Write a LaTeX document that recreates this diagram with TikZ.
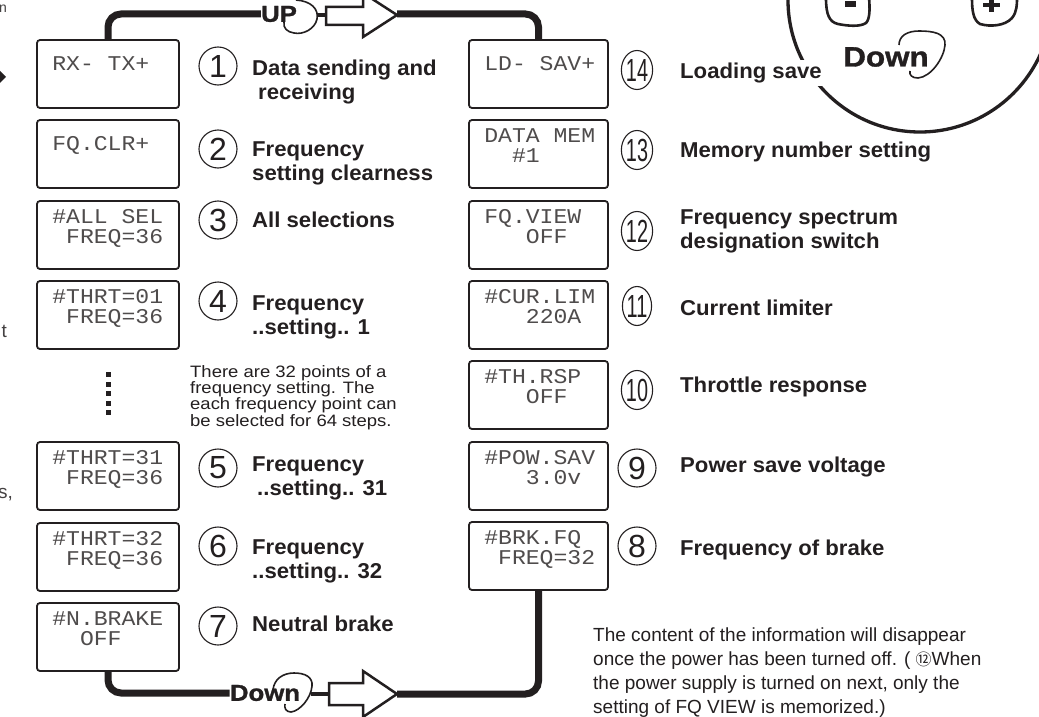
\documentclass[tikz,border=0pt]{standalone}
\usepackage{fontspec}
\setmainfont{Liberation Sans}
\newfontfamily\lcdfont[FakeStretch=1.1]{Liberation Mono}
\newfontfamily\lblfont[FakeStretch=1.03]{Liberation Sans}
\newfontfamily\narrowdigits[FakeStretch=0.62]{Liberation Sans}
\newfontfamily\notefont[FakeStretch=1.12]{Liberation Sans}
\newfontfamily\heavyfont[FakeStretch=1.12,FakeBold=1.2]{Liberation Sans}
\newfontfamily\cjkfont{Noto Sans CJK JP}
\usetikzlibrary{shapes.geometric,calc}
\definecolor{ink}{RGB}{35,31,32}
\newcommand\LS{\hphantom{0}}
\newcommand\LcdBox[6]{%
  \node[lcd, minimum width=#4] (#1) at (#2,#3+34) {};
  \node[lcdtxt] (#1a) at ($(#1.north west)+(16,23.5)$) {#5};
  \node[lcdtxt] (#1b) at ($(#1.north west)+(16,43.5)$) {#6};}
\newcommand\LcdOne[5]{%
  \node[lcd, minimum width=#4] (#1) at (#2,#3+34) {};
  \node[lcdtxt] (#1a) at ($(#1.north west)+(16,31)$) {#5};}
\begin{document}
\begin{tikzpicture}[x=1pt,y=-1pt,
  every node/.style={text=ink},
  lcd/.style={draw=ink, line width=1.8pt, rounded corners=3pt, minimum height=68pt, inner sep=0pt},
  lcdtxt/.style={font=\lcdfont\fontsize{21}{21}\selectfont, text=ink!80, inner sep=0pt, anchor=base west},
  numc/.style={circle, draw=ink, line width=1.1pt, minimum size=38pt, inner sep=0pt, font=\fontsize{32}{32}\selectfont},
  nume/.style={ellipse, draw=ink, line width=1.1pt, minimum width=29pt, minimum height=39pt, inner sep=0pt, font=\narrowdigits\fontsize{32}{32}\selectfont},
  lbl/.style={font=\lblfont\bfseries\fontsize{21.5}{24.5}\selectfont, align=left, inner sep=0pt, anchor=north west},
  flow/.style={draw=ink, line width=7pt, rounded corners=13pt},
  hollow/.style={draw=ink, line width=2.5pt, fill=white, line join=miter},
  curl/.style={draw=ink, line width=1.6pt},
  heavy/.style={inner sep=0pt, font=\heavyfont\bfseries\fontsize{23}{23}\selectfont},
  frag/.style={anchor=base east, inner sep=0pt, text=ink!85}
]
\clip (0,0) rectangle (1039,717);
\fill[white] (0,0) rectangle (1039,717);

% big dial circle (top right)
\draw[ink, line width=3.3pt] (920,0) circle[radius=132pt];
\draw[ink, line width=2.6pt] (826,-2) .. controls (826,14) and (829,22) .. (838,24)
  .. controls (848,26) and (860,27) .. (866,23) .. controls (870,19) and (870,8) .. (869,-2);
\fill[ink] (845,1) rectangle (856,7);
\draw[ink, line width=2.6pt] (972,-2) .. controls (972,10) and (973,20) .. (980,24)
  .. controls (990,27) and (1005,26) .. (1012,18) .. controls (1017,12) and (1017,4) .. (1017,-2);
\fill[ink] (983,3) rectangle (1000,7.5);
\fill[ink] (989,-1) rectangle (993.5,12);
\node[heavy, font=\heavyfont\bfseries\fontsize{28}{28}\selectfont] (dialdown) at (886,57) {Down};
\draw[curl] (899,45) .. controls (899,36) and (907,31) .. (919,31) .. controls (933,31) and (946,33) .. (945,45)
  .. controls (944,58) and (931,77) .. (918,78) .. controls (912,78) and (909,75) .. (910,71);

% left edge fragments
\node[frag, font=\fontsize{14}{14}\selectfont] (fr1) at (7,13) {n};
\fill[ink] (0,71) -- (6,77) -- (0,83) -- cycle;
\node[frag, font=\fontsize{19}{19}\selectfont] (fr2) at (7,337) {t};
\node[frag, font=\fontsize{19}{19}\selectfont] (fr3) at (13,498) {s,};

% LCD boxes, left column
\LcdOne{b1}{108}{40}{142pt}{RX-\LS TX+}
\LcdOne{b2}{108}{120}{142pt}{FQ.CLR+}
\LcdBox{b3}{108}{201}{142pt}{\#ALL\LS SEL}{\LS FREQ=36}
\LcdBox{b4}{108}{281}{142pt}{\#THRT=01}{\LS FREQ=36}
\LcdBox{b5}{108}{442}{142pt}{\#THRT=31}{\LS FREQ=36}
\LcdBox{b6}{108}{523}{142pt}{\#THRT=32}{\LS FREQ=36}
\LcdBox{b7}{108}{603}{142pt}{\#N.BRAKE}{\LS\LS OFF}
% LCD boxes, right column
\LcdOne{b14}{538.5}{40}{139pt}{LD-\LS SAV+}
\LcdBox{b13}{538.5}{120}{139pt}{DATA\LS MEM}{\LS\LS\#1}
\LcdBox{b12}{538.5}{201}{139pt}{FQ.VIEW}{\LS\LS\LS OFF}
\LcdBox{b11}{538.5}{281}{139pt}{\#CUR.LIM}{\LS\LS\LS 220A}
\LcdBox{b10}{538.5}{361}{139pt}{\#TH.RSP}{\LS\LS\LS OFF}
\LcdBox{b9}{538.5}{442}{139pt}{\#POW.SAV}{\LS\LS\LS 3.0v}
\LcdBox{b8}{538.5}{522}{139pt}{\#BRK.FQ}{\LS FREQ=32}

% dots
\foreach \yy in {372,381.5,391,400.5,410} \fill[ink] (105.5,\yy) rectangle +(5,5);

% numbers and labels, left
\node[numc] (n1) at (218,66) {1};
\node[lbl] (l1) at (252,59.5) {Data sending and\\\hspace*{6pt}receiving};
\node[numc] (n2) at (218,149) {2};
\node[lbl] (l2) at (252,141.5) {Frequency\\setting clearness};
\node[numc] (n3) at (218,220) {3};
\node[lbl] (l3) at (252,211.5) {All selections};
\node[numc] (n4) at (218,301) {4};
\node[lbl] (l4) at (252,295.5) {Frequency\\..setting.. 1};
\node[numc] (n5) at (218,468) {5};
\node[lbl] (l5) at (252,456.5) {Frequency\\\hspace*{5pt}..setting.. 31};
\node[numc] (n6) at (218,546) {6};
\node[lbl] (l6) at (252,539.5) {Frequency\\..setting.. 32};
\node[numc] (n7) at (218,626) {7};
\node[lbl] (l7) at (252,615.5) {Neutral brake};

% numbers and labels, right
\node[nume] (n14) at (637,70) {14};
\node[lbl, fill=white, inner sep=3pt] (l14) at (677,59.5) {Loading save};
\node[nume] (n13) at (637,150) {13};
\node[lbl] (l13) at (680,141.5) {Memory number setting};
\node[nume] (n12) at (637,231) {12};
\node[lbl] (l12) at (680,209.5) {Frequency spectrum\\designation switch};
\node[nume] (n11) at (637,306) {11};
\node[lbl] (l11) at (680,299.5) {Current limiter};
\node[nume] (n10) at (637,390) {10};
\node[lbl] (l10) at (680,376.5) {Throttle response};
\node[numc] (n9) at (637,468) {9};
\node[lbl] (l9) at (680,456.5) {Power save voltage};
\node[numc] (n8) at (637,546) {8};
\node[lbl] (l8) at (680,539.5) {Frequency of brake};

% notes
\node[anchor=north west, align=left, inner sep=0pt, font=\notefont\fontsize{16.5}{14.2}\selectfont] (info) at (190,365)
  {There are 32 points of a\\frequency setting. The\\each frequency point can\\be selected for 64 steps.};
\node[anchor=north west, align=left, inner sep=0pt, font=\fontsize{19}{24}\selectfont] (note) at (593,628)
  {The content of the information will disappear\\once the power has been turned off. ( {\cjkfont\fontsize{16}{16}\selectfont ⑫}When\\the power supply is turned on next, only the\\setting of FQ VIEW is memorized.)};

% top flow (UP)
\node[heavy] (up) at (279,14) {UP};
\draw[flow] (b1.north) |- (up.west);
\draw[curl] (296,0) .. controls (311,1) and (319,9) .. (317,19) .. controls (315,29) and (303,35) .. (294,33)
  .. controls (287,32) and (283,28) .. (284,22);
\draw[ink, line width=4pt] (317,15) -- (326,15);
\draw[hollow] (326,7) -- (363,7) -- (363,-7) -- (397,15) -- (363,37) -- (363,25) -- (326,25) -- cycle;
\coordinate (tipT) at (397,14);
\draw[flow] (tipT) -| (b14.north);

% bottom flow (Down)
\node[heavy] (down) at (265,693) {Down};
\draw[flow] (b7.south) |- (down.west);
\draw[curl] (273,690) .. controls (274,679) and (283,673) .. (294,673) .. controls (305,673) and (313,677) .. (312,686)
  .. controls (311,698) and (300,711) .. (291,712) .. controls (286,712) and (284,708) .. (285,704);
\draw[ink, line width=4pt] (311,694) -- (329,694);
\draw[hollow] (329,683) -- (363,683) -- (363,671) -- (397,694) -- (363,717) -- (363,705) -- (329,705) -- cycle;
\coordinate (tipB) at (397,694);
\draw[flow] (tipB) -| (b8.south);
\end{tikzpicture}
\end{document}
